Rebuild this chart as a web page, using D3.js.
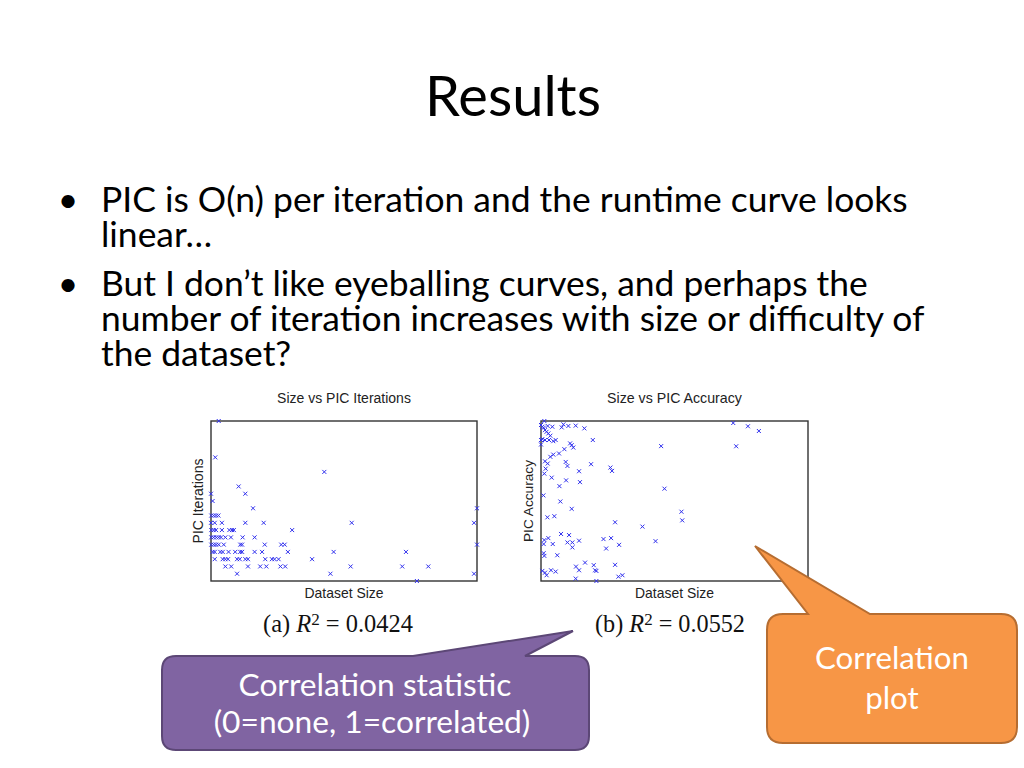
<!DOCTYPE html>
<html>
<head>
<meta charset="utf-8">
<script src="https://cdn.jsdelivr.net/npm/d3@7"></script>
<style>
html,body{margin:0;padding:0;background:#fff;}
svg{display:block;}
</style>
</head>
<body>
<svg id="slide" width="1024" height="768"></svg>
<script>
// ---------- DATA ----------
const titleText = "Results";
const bulletLines = [
  {text: "PIC is O(n) per iteration and the runtime curve looks", bullet: true},
  {text: "linear…", bullet: false},
  {text: "But I don’t like eyeballing curves, and perhaps the", bullet: true},
  {text: "number of iteration increases with size or difficulty of", bullet: false},
  {text: "the dataset?", bullet: false}
];
const chartTitles = ["Size vs PIC Iterations", "Size vs PIC Accuracy"];
const yLabels = ["PIC Iterations", "PIC Accuracy"];
const xLabel = "Dataset Size";
const captionTags = ["(a)", "(b)"];
const r2Values = ["0.0424", "0.0552"];
const calloutPurple = ["Correlation statistic", "(0=none, 1=correlated)"];
const calloutOrange = ["Correlation", "plot"];

// Size (relative, 0-100) vs PIC iterations (integer levels)
const iterationPoints = [
  [2.9,22],[1.6,17],[42.6,15],[10.4,13],[0,12],[12.9,12],[0.6,11],[15.8,10],[100,10],
  [0.1,9],[1.0,9],[1.9,9],[2.8,9],
  [0,8],[1.4,8],[4.1,8],[12.9,8],[19.8,8],[52.9,8],[98.9,8],
  [0.1,7],[1.0,7],[1.9,7],[4.1,7],[6.9,7],[7.9,7],[8.6,7],[30.5,7],
  [0.1,6],[1.0,6],[2.0,6],[2.9,6],[3.8,6],[5.4,6],[7.5,6],[11.9,6],[16.4,6],
  [0.1,5],[1.0,5],[1.9,5],[2.9,5],[4.8,5],[11.0,5],[11.7,5],[20.2,5],[26.4,5],[27.7,5],[100,5],
  [0.6,4],[1.4,4],[3.5,4],[4.4,4],[6.6,4],[9.1,4],[11.0,4],[11.7,4],[16.4,4],[19.2,4],[28.9,4],[46.1,4],[73.3,4],
  [1.4,3],[4.4,3],[5.4,3],[6.4,3],[9.8,3],[10.8,3],[12.9,3],[13.9,3],[20.4,3],[22.9,3],[23.9,3],[25.4,3],[38.0,3],
  [5.4,2],[7.6,2],[13.9,2],[18.5,2],[20.8,2],[26.1,2],[27.9,2],[52.5,2],[71.9,2],[81.7,2],
  [9.8,1],[44.9,1],[98.9,1],
  [77.4,0]
];

// Size (relative, 0-100) vs PIC accuracy (relative, 0-100)
const accuracyPoints = [
  [1.25,100],[0,97.5],[0.5,96.4],[1.0,95.8],[1.5,94.3],[2.1,93.3],[2.75,92.2],[3.5,90.8],
  [2.5,96.9],[4.25,96.4],[8.4,97.9],[7.75,96.0],[10.25,96.9],[13,97.1],[16.25,95.4],
  [0,88.1],[0.5,88.7],[1.5,88.1],[3,88.1],[4.6,87.4],[5.5,88.1],[0,85.3],
  [10.9,86.0],[11.5,84.9],[12.1,83.4],[19.4,88.1],[45,84.3],
  [8.75,82.4],[6.75,79.7],[4.6,79.0],[3.5,77.6],
  [1.5,74.8],[2.5,73.4],[9.25,74.4],[9.9,71.9],[18.75,73.0],[26,70.9],[26.6,68.8],
  [1.75,70.2],[1.25,67.1],[14.25,68.6],[4,64.6],[9.4,62.9],[14.6,61.8],
  [6.9,59.3],[46.25,57.7],[0.9,53.5],[7.25,49.7],[11.5,45.1],[5,40.5],[2.4,39.8],
  [27.75,36.7],[38,34.0],[7.5,29.4],[10.5,28.7],
  [2.75,26.8],[1.25,25.6],[1.0,23.1],[4.4,23.1],[9.9,24.1],[11.75,24.1],[14.25,25.2],[11.75,21.0],
  [23.4,26.2],[26.25,26.8],[29.25,22.6],[24.4,20.3],[42.9,24.9],
  [6.1,16.1],[1.0,17.4],[1.25,15.7],
  [16.5,11.5],[13.1,9.0],[14.25,6.7],[19.75,9.9],[20.25,6.7],[20.75,6.3],[27.75,10.1],
  [0.5,6.3],[1.5,5.2],[2.1,3.6],[3.75,6.7],[5.5,5.9],
  [13,1.5],[20.75,0],[29,2.7],[30.5,3.6],
  [72,98.75],[77.5,96.7],[81.6,93.75],[73.1,84.2],[52.6,43.3],[52.9,37.9]
];

const xDomain = [0, 100];
const iterDomain = [0, 22];
const accDomain = [0, 100];

// ---------- DRAW ----------
const svg = d3.select("#slide");
const bodyFont = "Lato, 'Open Sans', sans-serif";
const plotFont = "'Liberation Sans', Arial, sans-serif";
const mathFont = "'Liberation Serif', 'DejaVu Serif', serif";

function fitWidth(sel, w) {
  const l = sel.node().getComputedTextLength();
  const fs = parseFloat(sel.attr("font-size"));
  sel.attr("font-size", fs * w / l);
  return fs * w / l;
}

// Title
const title = svg.append("text")
  .attr("x", 513).attr("y", 116)
  .attr("text-anchor", "middle")
  .attr("font-family", bodyFont)
  .attr("font-size", 56)
  .attr("fill", "#000")
  .text(titleText);
fitWidth(title, 176);

// Bullets
const lineY = [212, 247, 296, 331, 366];
const probe = svg.append("text").attr("font-family", bodyFont).attr("font-size", 32).text(bulletLines[0].text);
const bodySize = 32 * 807 / probe.node().getComputedTextLength();
probe.remove();
bulletLines.forEach((ln, i) => {
  if (ln.bullet) {
    svg.append("text").attr("x", 68).attr("y", lineY[i])
      .attr("text-anchor", "middle").attr("font-family", bodyFont)
      .attr("font-size", bodySize).text("•");
  }
  svg.append("text").attr("x", 101).attr("y", lineY[i])
    .attr("font-family", bodyFont).attr("font-size", bodySize)
    .attr("fill", "#000").text(ln.text);
});

// Scatter panels
const panels = [
  {left: 211, right: 477, data: iterationPoints, yDomain: iterDomain},
  {left: 541, right: 808, data: accuracyPoints, yDomain: accDomain}
];
const plotTop = 421, plotBottom = 581;

panels.forEach((p, i) => {
  const x = d3.scaleLinear().domain(xDomain).range([p.left, p.right]);
  const y = d3.scaleLinear().domain(p.yDomain).range([plotBottom, plotTop]);
  const g = svg.append("g");
  const cx = (p.left + p.right) / 2;

  g.append("rect")
    .attr("x", x(xDomain[0])).attr("y", y(p.yDomain[1]))
    .attr("width", x(xDomain[1]) - x(xDomain[0]))
    .attr("height", y(p.yDomain[0]) - y(p.yDomain[1]))
    .attr("fill", "none").attr("stroke", "#333").attr("stroke-width", 1.4);

  const s = 2;
  g.append("g").selectAll("path").data(p.data).join("path")
    .attr("d", d => {
      const px = x(d[0]), py = y(d[1]);
      return `M${px - s},${py - s}L${px + s},${py + s}M${px - s},${py + s}L${px + s},${py - s}`;
    })
    .attr("stroke", "#3030ee").attr("stroke-width", 1).attr("fill", "none");

  // Title
  const t = g.append("text").attr("x", cx).attr("y", 403)
    .attr("text-anchor", "middle").attr("font-family", plotFont)
    .attr("font-size", 13).attr("fill", "#222").text(chartTitles[i]);
  fitWidth(t, i === 0 ? 134 : 135);

  // X label
  const xl = g.append("text").attr("x", cx).attr("y", 598)
    .attr("text-anchor", "middle").attr("font-family", plotFont)
    .attr("font-size", 13).attr("fill", "#222").text(xLabel);
  fitWidth(xl, 79);

  // Y label
  const yl = g.append("text")
    .attr("transform", `translate(${p.left - 8},${(plotTop + plotBottom) / 2}) rotate(-90)`)
    .attr("text-anchor", "middle").attr("font-family", plotFont)
    .attr("font-size", 13).attr("fill", "#222").text(yLabels[i]);
  fitWidth(yl, i === 0 ? 85 : 82);

  // Caption
  const cap = g.append("text").attr("x", i === 0 ? 338 : 670).attr("y", 632)
    .attr("text-anchor", "middle").attr("font-family", mathFont)
    .attr("font-size", 18).attr("fill", "#111");
  cap.append("tspan").text(captionTags[i] + " ");
  cap.append("tspan").attr("font-style", "italic").text("R");
  cap.append("tspan").attr("dy", -7).attr("font-size", "70%").text("2");
  cap.append("tspan").attr("dy", 7).text(" = " + r2Values[i]);
  const bw = cap.node().getBBox().width;
  cap.attr("font-size", 18 * 150 / bw);
});

// Callouts
function calloutPath(x0, y0, x1, y1, r, bx0, bx1, tx, ty) {
  return `M${x0 + r},${y0}` +
    `L${bx0},${y0}L${tx},${ty}L${bx1},${y0}` +
    `L${x1 - r},${y0}Q${x1},${y0} ${x1},${y0 + r}` +
    `L${x1},${y1 - r}Q${x1},${y1} ${x1 - r},${y1}` +
    `L${x0 + r},${y1}Q${x0},${y1} ${x0},${y1 - r}` +
    `L${x0},${y0 + r}Q${x0},${y0} ${x0 + r},${y0}Z`;
}

svg.append("path")
  .attr("d", calloutPath(162, 656, 589, 750, 14, 413, 525, 573, 631))
  .attr("fill", "#8064A2").attr("stroke", "#5C4776").attr("stroke-width", 2);
const pt1 = svg.append("text").attr("x", 375).attr("y", 696)
  .attr("text-anchor", "middle").attr("font-family", bodyFont)
  .attr("font-size", 28).attr("fill", "#fff").text(calloutPurple[0]);
const pSize = fitWidth(pt1, 273);
svg.append("text").attr("x", 372).attr("y", 733)
  .attr("text-anchor", "middle").attr("font-family", bodyFont)
  .attr("font-size", pSize).attr("fill", "#fff").text(calloutPurple[1]);

svg.append("path")
  .attr("d", calloutPath(767, 614, 1017, 743, 16, 808, 870, 755, 546))
  .attr("fill", "#F79646").attr("stroke", "#B66D31").attr("stroke-width", 2);
const ot1 = svg.append("text").attr("x", 892).attr("y", 669)
  .attr("text-anchor", "middle").attr("font-family", bodyFont)
  .attr("font-size", 28).attr("fill", "#fff").text(calloutOrange[0]);
const oSize = fitWidth(ot1, 154);
svg.append("text").attr("x", 892).attr("y", 709)
  .attr("text-anchor", "middle").attr("font-family", bodyFont)
  .attr("font-size", oSize).attr("fill", "#fff").text(calloutOrange[1]);
</script>
</body>
</html>
